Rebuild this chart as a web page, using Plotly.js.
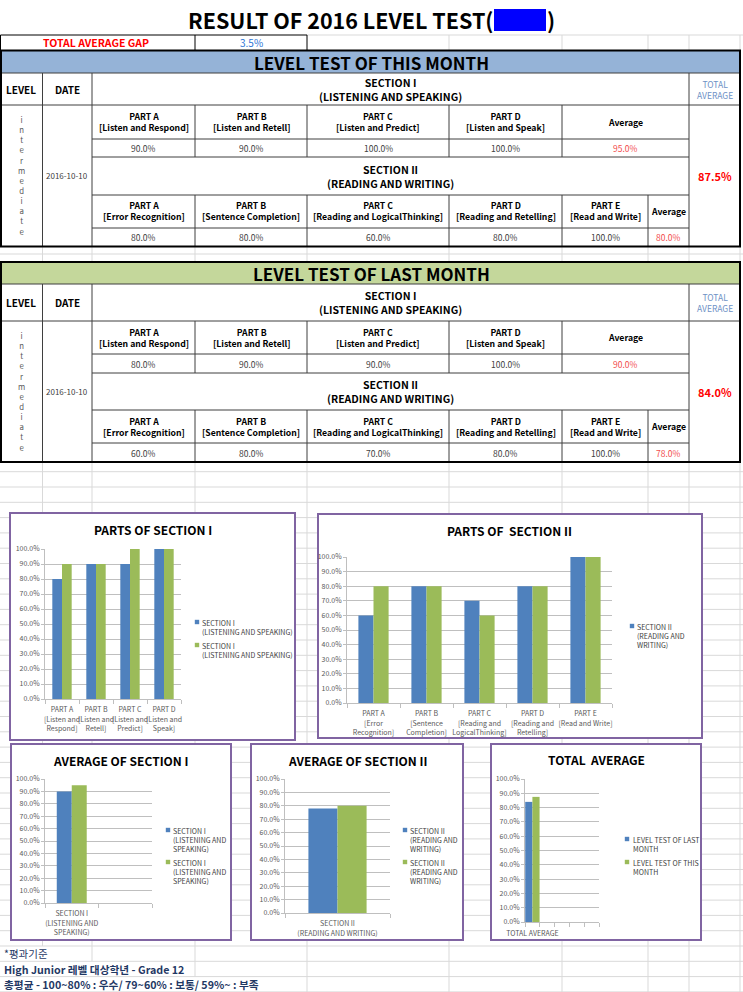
<!DOCTYPE html>
<html><head><meta charset="utf-8">
<script src="https://cdn.plot.ly/plotly-3.0.1.min.js"></script>
<style>html,body{margin:0;padding:0;background:#fff}#chart{width:743px;height:992px}</style>
</head><body><div id="chart"></div>
<script>
// ================= DATA =================
const reportTitle = "RESULT OF 2016 LEVEL TEST(";
const gapLabel = "TOTAL AVERAGE GAP";
const totalGap = 3.5;
const thisMonthTitle = "LEVEL TEST OF THIS MONTH";
const lastMonthTitle = "LEVEL TEST OF LAST MONTH";
const levelName = "intermediate";
const testDateThis = "2016-10-10";
const testDateLast = "2016-10-10";
const sec1Title = "SECTION I";
const sec1Sub = "(LISTENING AND SPEAKING)";
const sec2Title = "SECTION II";
const sec2Sub = "(READING AND WRITING)";
const sec1Parts = ["PART A", "PART B", "PART C", "PART D"];
const sec1Desc = ["[Listen and Respond]", "[Listen and Retell]", "[Listen and Predict]", "[Listen and Speak]"];
const sec2Parts = ["PART A", "PART B", "PART C", "PART D", "PART E"];
const sec2Desc = ["[Error Recognition]", "[Sentence Completion]", "[Reading and LogicalThinking]", "[Reading and Retelling]", "[Read and Write]"];
const sec1ChartLabels = ["PART A<br>[Listen and<br>Respond]", "PART B<br>[Listen and<br>Retell]", "PART C<br>[Listen and<br>Predict]", "PART D<br>[Listen and<br>Speak]"];
const sec2ChartLabels = ["PART A<br>[Error<br>Recognition]", "PART B<br>[Sentence<br>Completion]", "PART C<br>[Reading and<br>LogicalThinking]", "PART D<br>[Reading and<br>Retelling]", "PART E<br>[Read and Write]"];
const avg1ChartLabel = ["SECTION I<br>(LISTENING AND<br>SPEAKING)"];
const avg2ChartLabel = ["SECTION II<br>(READING AND WRITING)"];
const totalChartLabel = ["TOTAL AVERAGE"];

const thisSec1 = [90, 90, 100, 100];
const lastSec1 = [80, 90, 90, 100];
const thisSec2 = [80, 80, 60, 80, 100];
const lastSec2 = [60, 80, 70, 80, 100];
const thisAvg1 = 95.0, lastAvg1 = 90.0;
const thisAvg2 = 80.0, lastAvg2 = 78.0;
const thisTotal = 87.5, lastTotal = 84.0;

const chartTitles = ["PARTS OF SECTION I", "PARTS OF  SECTION II", "AVERAGE OF SECTION I", "AVERAGE OF SECTION II", "TOTAL  AVERAGE"];
const sec1SeriesName = "SECTION I<br>(LISTENING AND SPEAKING)";
const sec2SeriesName = "SECTION II<br>(READING AND<br>WRITING)";
const avg1SeriesName = "SECTION I<br>(LISTENING AND<br>SPEAKING)";
const avg2SeriesName = "SECTION II<br>(READING AND<br>WRITING)";
const lastMonthName = "LEVEL TEST OF LAST<br>MONTH";
const thisMonthName = "LEVEL TEST OF THIS<br>MONTH";
const noteLines = ["*평과기준", "High Junior 레벨 대상학년 - Grade 12", "총평균 - 100~80% : 우수/ 79~60% : 보통/ 59%~ : 부족"];

// ================= STYLE / HELPERS =================
const F = "'Noto Sans CJK KR', 'Noto Sans', sans-serif";
const BLUE = "#4F81BD", GREEN = "#9BBB59", PURPLE = "#8064A2";
const GRID = "#D9D9D9";
const W = 743, H = 992;
const X = p => p / W, Y = p => 1 - p / H;
const shapes = [], ann = [];
function line(x0, y0, x1, y1, color, w) {
  shapes.push({type: 'line', xref: 'paper', yref: 'paper', x0: X(x0), y0: Y(y0), x1: X(x1), y1: Y(y1), line: {color: color, width: w}, layer: 'below'});
}
function rect(x0, y0, x1, y1, fill, color, w) {
  shapes.push({type: 'rect', xref: 'paper', yref: 'paper', x0: X(x0), y0: Y(y0), x1: X(x1), y1: Y(y1), fillcolor: fill, line: {color: color || 'rgba(0,0,0,0)', width: w || 0}, layer: 'below'});
}
function boldLines(t) { return t.split('<br>').map(s => '<b>' + s + '</b>').join('<br>'); }
function text(x, y, t, size, color, bold, xa, ya) {
  ann.push({xref: 'paper', yref: 'paper', x: X(x), y: Y(y), text: bold ? boldLines(t) : t, showarrow: false,
    xanchor: xa || 'center', yanchor: ya || 'middle', align: (xa === 'left') ? 'left' : 'center',
    font: {family: F, size: size, color: color}, borderpad: 0});
}
const pct = v => v.toFixed(1) + '%';

// ================= SPREADSHEET GRID =================
const gridCols = [42.5, 92, 195, 307, 449, 562, 648, 689, 740];
line(307, 35, 743, 35, GRID, 1);
[449, 562, 648, 689, 740].forEach(c => line(c, 35, c, 50, GRID, 1));
line(0, 254, 743, 254, GRID, 1);
gridCols.forEach(c => line(c, 246, c, 262, GRID, 1));
for (let y = 471.7; y < 992; y += 15.3) line(0, y, 743, y, GRID, 1);
gridCols.forEach(c => line(c, 462, c, 946, GRID, 1));
gridCols.filter(c => c > 60).forEach(c => line(c, 946, c, 961.3, GRID, 1));
gridCols.filter(c => c > 190).forEach(c => line(c, 961.3, c, 976.6, GRID, 1));
gridCols.filter(c => c > 300).forEach(c => line(c, 976.6, c, 992, GRID, 1));

// ================= TITLE =================
text(494, 19, reportTitle, 21.5, '#000', true, 'right');
rect(494, 9, 546, 31, '#0000FF');
text(546, 19, ")", 21.5, '#000', true, 'left');

rect(0.5, 35, 307, 50.5, '#fff', '#000', 1);
line(195, 35, 195, 50.5, '#000', 1);
text(96, 43, gapLabel, 10.5, '#FF0000', true);
text(251, 43, pct(totalGap), 10, '#2E75D6', false);

// ================= TABLE BLOCKS =================
const C = {lev: 42.5, date: 92, a: 195, b: 307, c: 449, d: 562, e: 648, avgEnd: 689, end: 740};
function block(r, barColor, title, date, s1, a1, s2, a2, tot) {
  rect(1, r.top, C.end, r.bot, '#fff');
  rect(1, r.top, C.end, r.barBot, barColor);
  text(372, (r.top + r.barBot) / 2 + 0.5, title, 17, '#000', true);
  const IN = '#3F3F3F';
  line(1, r.barBot, C.end, r.barBot, IN, 1);
  line(1, r.hdrBot, C.end, r.hdrBot, IN, 1);
  [C.lev, C.date, C.avgEnd].forEach(c => line(c, r.barBot, c, r.bot, IN, 1));
  [r.r1, r.r2, r.r3, r.r4].forEach(y => line(C.date, y, C.avgEnd, y, IN, 1));
  [C.a, C.b, C.c, C.d].forEach(c => line(c, r.hdrBot, c, r.r2, IN, 1));
  [C.a, C.b, C.c, C.d, C.e].forEach(c => line(c, r.r3, c, r.bot, IN, 1));
  rect(1, r.top, C.end, r.bot, 'rgba(0,0,0,0)', '#000', 2);
  const hm = (r.barBot + r.hdrBot) / 2;
  text(21, hm, "LEVEL", 10, '#000', true);
  text(67, hm, "DATE", 10, '#000', true);
  text(390.5, hm, sec1Title + '<br>' + sec1Sub, 10.5, '#000', true);
  text(714.5, hm, "TOTAL<br>AVERAGE", 8.5, '#6E91C6', false);
  const bm = (r.hdrBot + r.bot) / 2;
  text(21, bm, levelName.split('').join('<br>'), 7.8, '#595959', false);
  text(67, bm, date, 8, '#404040', false);
  const c1 = [C.date, C.a, C.b, C.c, C.d, C.avgEnd];
  const m1 = (r.hdrBot + r.r1) / 2, v1 = (r.r1 + r.r2) / 2;
  s1.forEach((v, i) => {
    const cx = (c1[i] + c1[i + 1]) / 2;
    text(cx, m1, sec1Parts[i] + '<br>' + sec1Desc[i], 8.7, '#000', true);
    text(cx, v1, pct(v), 8.5, '#404040', false);
  });
  text((C.d + C.avgEnd) / 2, m1, "Average", 8.7, '#000', true);
  text((C.d + C.avgEnd) / 2, v1, pct(a1), 8.5, '#F24C4C', false);
  text(390.5, (r.r2 + r.r3) / 2, sec2Title + '<br>' + sec2Sub, 10.5, '#000', true);
  const c2 = [C.date, C.a, C.b, C.c, C.d, C.e, C.avgEnd];
  const m2 = (r.r3 + r.r4) / 2, v2 = (r.r4 + r.bot) / 2;
  s2.forEach((v, i) => {
    const cx = (c2[i] + c2[i + 1]) / 2;
    text(cx, m2, sec2Parts[i] + '<br>' + sec2Desc[i], 8.7, '#000', true);
    text(cx, v2, pct(v), 8.5, '#404040', false);
  });
  text((C.e + C.avgEnd) / 2, m2, "Average", 8.7, '#000', true);
  text((C.e + C.avgEnd) / 2, v2, pct(a2), 8.5, '#F24C4C', false);
  text(714.5, bm, pct(tot), 11, '#FF0000', true);
}
block({top: 50.5, barBot: 73, hdrBot: 105, r1: 139, r2: 157, r3: 195, r4: 228, bot: 246.5}, '#95B3D7', thisMonthTitle, testDateThis, thisSec1, thisAvg1, thisSec2, thisAvg2, thisTotal);
block({top: 262, barBot: 284, hdrBot: 321, r1: 354, r2: 373, r3: 410, r4: 443, bot: 462}, '#C4D79B', lastMonthTitle, testDateLast, lastSec1, lastAvg1, lastSec2, lastAvg2, lastTotal);

// ================= CHARTS =================
const traces = [];
const layout = {
  width: W, height: H, margin: {l: 0, r: 0, t: 0, b: 0},
  paper_bgcolor: '#fff', plot_bgcolor: 'rgba(0,0,0,0)', showlegend: false,
  barmode: 'group', shapes: shapes, annotations: ann, font: {family: F}
};
const tickFont = {family: F, size: 7, color: '#595959'};
function chart(k, cfg) {
  const sfx = k === 1 ? '' : String(k);
  const idx = cfg.cats.map((_, i) => i);
  const bounds = [];
  for (let i = 0; i <= cfg.slots; i++) bounds.push(i - 0.5);
  const b = cfg.box;
  rect(b[0], b[1], b[2], b[3], '#fff', PURPLE, 2);
  text((b[0] + b[2]) / 2, cfg.titleY, cfg.title, 12, '#000', true);
  cfg.series.forEach((s, j) => {
    traces.push({type: 'bar', x: idx, y: s.y, name: s.name, xaxis: 'x' + sfx, yaxis: 'y' + sfx,
      marker: {color: s.color, line: {width: 0}}, width: cfg.w, offset: j === 0 ? -cfg.w : 0, hoverinfo: 'skip'});
  });
  layout['xaxis' + sfx] = {
    domain: [X(cfg.plot[0]), X(cfg.plot[2])], anchor: 'y' + sfx, range: [-0.5, cfg.slots - 0.5],
    tickmode: 'array', tickvals: idx, ticktext: cfg.cats, ticks: '', tickangle: 0, tickfont: tickFont,
    ticklabelstandoff: cfg.standoff || 2,
    showline: true, linecolor: '#BFBFBF', linewidth: 1, showgrid: false, zeroline: false, fixedrange: true,
    minor: {tickmode: 'array', tickvals: bounds, ticks: 'outside', ticklen: 4, tickcolor: '#BFBFBF', showgrid: false}
  };
  layout['yaxis' + sfx] = {
    domain: [Y(cfg.plot[3]), Y(cfg.plot[1])], anchor: 'x' + sfx, range: [0, 100],
    tickmode: 'linear', tick0: 0, dtick: 10, tickformat: '.1f', ticksuffix: '%', tickfont: tickFont,
    showgrid: true, gridcolor: '#BFBFBF', gridwidth: 1, showline: true, linecolor: '#BFBFBF',
    ticks: 'outside', ticklen: 3, tickcolor: '#BFBFBF', zeroline: false, fixedrange: true
  };
  cfg.series.slice(0, cfg.legendCount).forEach((s, j) => {
    const ly = cfg.legend.ys[j];
    rect(cfg.legend.sq - 2.2, ly - 2.2, cfg.legend.sq + 2.2, ly + 2.2, s.color);
    text(cfg.legend.tx, ly - 4.8, s.name, 7, '#404040', false, 'left', 'top');
  });
}
chart(1, {cats: sec1ChartLabels, slots: 4, w: 0.285, box: [10, 513, 295, 740], plot: [45, 549, 181, 699], titleY: 529, title: chartTitles[0],
  series: [{name: sec1SeriesName, y: lastSec1, color: BLUE}, {name: sec1SeriesName, y: thisSec1, color: GREEN}],
  legendCount: 2, legend: {sq: 197, tx: 201, ys: [622, 645]}, standoff: 4});
chart(2, {cats: sec2ChartLabels, slots: 5, w: 0.285, box: [318, 514, 702, 738], plot: [347, 557, 612, 703], titleY: 530, title: chartTitles[1],
  series: [{name: sec2SeriesName, y: lastSec2, color: BLUE}, {name: sec2SeriesName, y: thisSec2, color: GREEN}],
  legendCount: 1, legend: {sq: 632, tx: 636, ys: [626]}, standoff: 4});
chart(3, {cats: avg1ChartLabel, slots: 2, w: 0.28, box: [11, 744, 231, 940], plot: [45, 779, 152, 903], titleY: 760, title: chartTitles[2],
  series: [{name: avg1SeriesName, y: [lastAvg1], color: BLUE}, {name: avg1SeriesName, y: [thisAvg1], color: GREEN}],
  legendCount: 2, legend: {sq: 168, tx: 172, ys: [830, 862]}, standoff: 4});
chart(4, {cats: avg2ChartLabel, slots: 1, w: 0.277, box: [251, 744, 463, 940], plot: [285, 779, 390, 913], titleY: 760, title: chartTitles[3],
  series: [{name: avg2SeriesName, y: [lastAvg2], color: BLUE}, {name: avg2SeriesName, y: [thisAvg2], color: GREEN}],
  legendCount: 2, legend: {sq: 405, tx: 409, ys: [830, 862]}, standoff: 4});
chart(5, {cats: totalChartLabel, slots: 5, w: 0.485, box: [491, 744, 701, 940], plot: [525, 779, 599, 922], titleY: 759, title: chartTitles[4],
  series: [{name: lastMonthName, y: [lastTotal], color: BLUE}, {name: thisMonthName, y: [thisTotal], color: GREEN}],
  legendCount: 2, legend: {sq: 627, tx: 632, ys: [839, 862]}, standoff: 5});

// ================= NOTES =================
text(3, 953.5, noteLines[0], 10.5, '#1F3864', false, 'left');
text(3, 969, noteLines[1], 10.7, '#1F3864', true, 'left');
text(3, 984.5, noteLines[2], 10.7, '#1F3864', true, 'left');

Plotly.newPlot('chart', traces, layout, {staticPlot: true, displayModeBar: false});
</script>
</body></html>
